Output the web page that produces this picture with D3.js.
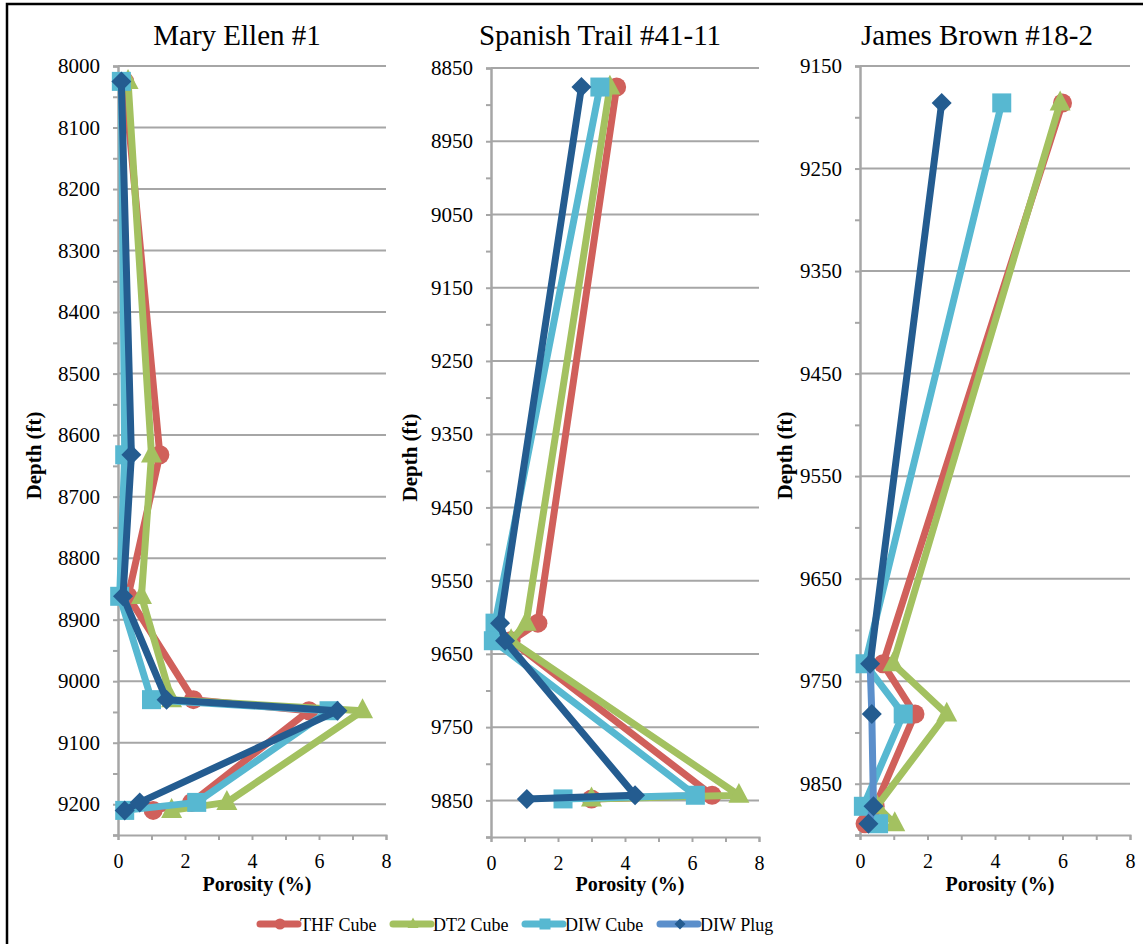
<!DOCTYPE html>
<html>
<head>
<meta charset="utf-8">
<script src="https://cdn.jsdelivr.net/npm/d3@7"></script>
<style>
  body { margin: 0; background: #fff; }
  svg text { font-family: "Liberation Serif", "DejaVu Serif", "Times New Roman", serif !important; fill: #000; }
</style>
</head>
<body>
<div id="chart"></div>
<script>
var svgWidth = 1143;
var svgHeight = 944;
var serif = "'Liberation Serif', 'DejaVu Serif', serif";

// series names, in drawing order
var seriesNames = ["THF Cube", "DT2 Cube", "DIW Cube", "DIW Plug"];
var wellNames = ["Mary Ellen #1", "Spanish Trail #41-11", "James Brown #18-2"];

// Mary Ellen #1
var maryEllenDepth = [8025, 8632, 8862, 9030, 9048, 9197, 9210];
var maryEllenTHF = [0.2, 1.25, 0.3, 2.25, 5.7, 2.2, 1.05];
var maryEllenDT2 = [0.3, 1.0, 0.7, 1.6, 7.3, 3.25, 1.6];
var maryEllenDIWCube = [0.1, 0.2, 0.05, 1.0, 6.3, 2.35, 0.2];
var maryEllenDIWPlug = [0.1, 0.4, 0.15, 1.45, 6.55, 0.65, 0.2];
var maryEllenTicks = [8000, 8100, 8200, 8300, 8400, 8500, 8600, 8700, 8800, 8900, 9000, 9100, 9200];

// Spanish Trail #41-11
var spanishTrailDepth = [8876, 9608, 9632, 9843, 9848];
var spanishTrailTHF = [3.75, 1.4, 0.6, 6.6, 3.0];
var spanishTrailDT2 = [3.55, 1.05, 0.6, 7.4, 3.0];
var spanishTrailDIWCube = [3.25, 0.12, 0.07, 6.1, 2.15];
var spanishTrailDIWPlug = [2.7, 0.27, 0.42, 4.3, 1.07];
var spanishTrailTicks = [8850, 8950, 9050, 9150, 9250, 9350, 9450, 9550, 9650, 9750, 9850];

// James Brown #18-2
var jamesBrownDepth = [9186, 9733, 9782, 9872, 9889];
var jamesBrownTHF = [6.0, 0.68, 1.63, 0.45, 0.15];
var jamesBrownDT2 = [5.93, 0.98, 2.57, 0.5, 1.03];
var jamesBrownDIWCube = [4.2, 0.15, 1.28, 0.1, 0.55];
var jamesBrownDIWPlug = [2.42, 0.3, 0.35, 0.4, 0.25];
var jamesBrownTicks = [9150, 9250, 9350, 9450, 9550, 9650, 9750, 9850];

var porosityTicks = [0, 1, 2, 3, 4, 5, 6, 7, 8];

var colors = ["#d0605b", "#a3c160", "#57b8d1", "#245c90"];
var plugLegendColor = "#5b8fcb";
var gridColor = "#a6a6a6";

var panels = [
  { name: wellNames[0], depth: maryEllenDepth,
    values: [maryEllenTHF, maryEllenDT2, maryEllenDIWCube, maryEllenDIWPlug],
    ticks: maryEllenTicks, domain: [8000, 9250],
    left: 118, right: 386, top: 66, bottom: 835, labelX: 41, titleX: 237 },
  { name: wellNames[1], depth: spanishTrailDepth,
    values: [spanishTrailTHF, spanishTrailDT2, spanishTrailDIWCube, spanishTrailDIWPlug],
    ticks: spanishTrailTicks, domain: [8850, 9900],
    left: 491, right: 759, top: 68, bottom: 837, labelX: 417, titleX: 600 },
  { name: wellNames[2], depth: jamesBrownDepth,
    values: [jamesBrownTHF, jamesBrownDT2, jamesBrownDIWCube, jamesBrownDIWPlug],
    ticks: jamesBrownTicks, domain: [9150, 9900],
    left: 860, right: 1130, top: 66, bottom: 835, labelX: 792, titleX: 977 }
];

var svg = d3.select("#chart")
  .append("svg")
  .attr("width", svgWidth)
  .attr("height", svgHeight)
  .attr("font-family", serif);

svg.append("rect")
  .attr("width", svgWidth)
  .attr("height", svgHeight)
  .attr("fill", "#fff");

// outer frame
svg.append("rect")
  .attr("x", 7)
  .attr("y", 4)
  .attr("width", svgWidth + 20)
  .attr("height", svgHeight + 20)
  .attr("fill", "none")
  .attr("stroke", "#000")
  .attr("stroke-width", 2.5);

function drawMarker(g, type, x, y, size, color) {
  if (type === 0) {
    g.append("circle").attr("cx", x).attr("cy", y).attr("r", size / 2).attr("fill", color);
  } else if (type === 1) {
    var h = size * 0.95;
    g.append("path")
      .attr("d", `M${x},${y - h * 0.62}L${x + size / 2},${y + h * 0.38}L${x - size / 2},${y + h * 0.38}Z`)
      .attr("fill", color);
  } else if (type === 2) {
    g.append("rect").attr("x", x - size / 2).attr("y", y - size / 2)
      .attr("width", size).attr("height", size).attr("fill", color);
  } else {
    var s = size / 2;
    g.append("path")
      .attr("d", `M${x},${y - s}L${x + s},${y}L${x},${y + s}L${x - s},${y}Z`)
      .attr("fill", color);
  }
}

var markerSizes = [19, 21, 19, 20];

panels.forEach(function(p, pi) {
  var x = d3.scaleLinear().domain([0, 8]).range([p.left, p.right]);
  var y = d3.scaleLinear().domain(p.domain).range([p.top, p.bottom]);

  var g = svg.append("g");

  // gridlines
  g.selectAll(".grid")
    .data(p.ticks)
    .enter()
    .append("line")
    .attr("x1", p.left)
    .attr("x2", p.right)
    .attr("y1", d => y(d))
    .attr("y2", d => y(d))
    .attr("stroke", gridColor)
    .attr("stroke-width", 2);

  // minor y ticks halfway between labels
  var minor = d3.range(p.ticks[0] + 50, p.domain[1] + 1, 100);
  var minorAxis = g.append("g")
    .attr("transform", `translate(${p.left},0)`)
    .call(d3.axisLeft(y).tickValues(minor).tickSize(5).tickFormat(""));

  var leftAxis = g.append("g")
    .attr("transform", `translate(${p.left},0)`)
    .call(d3.axisLeft(y).tickValues(p.ticks).tickSize(5).tickPadding(13).tickFormat(d3.format("d")));

  var bottomAxis = g.append("g")
    .attr("transform", `translate(0,${p.bottom})`)
    .call(d3.axisBottom(x).tickValues(porosityTicks).tickSize(5).tickPadding(14)
      .tickFormat(d => d % 2 === 0 ? d : ""));

  [minorAxis, leftAxis, bottomAxis].forEach(function(a) {
    a.attr("font-family", serif);
    a.select(".domain").attr("stroke", gridColor).attr("stroke-width", 2);
    a.selectAll(".tick line").attr("stroke", gridColor).attr("stroke-width", 2);
    a.selectAll("text")
      .attr("font-family", serif)
      .attr("font-size", 21)
      .attr("fill", "#000");
  });
  bottomAxis.selectAll("text").attr("font-size", 20);

  // title
  svg.append("text")
    .attr("x", p.titleX)
    .attr("y", 45)
    .attr("text-anchor", "middle")
    .attr("font-size", 29)
    .text(p.name);

  // axis titles
  svg.append("text")
    .attr("transform", `translate(${p.labelX},${(p.top + p.bottom) / 2 + 5}) rotate(-90)`)
    .attr("text-anchor", "middle")
    .attr("font-size", 21)
    .attr("font-weight", "bold")
    .text("Depth (ft)");

  svg.append("text")
    .attr("x", (p.left + p.right) / 2 + 5)
    .attr("y", 891)
    .attr("text-anchor", "middle")
    .attr("font-size", 20)
    .attr("font-weight", "bold")
    .text("Porosity (%)");

  // series
  var line = d3.line()
    .x(d => x(d[0]))
    .y(d => y(d[1]));

  p.values.forEach(function(vals, si) {
    var pts = vals.map((v, i) => [v, p.depth[i]]);
    var sg = svg.append("g");
    if (si === 3 && pi === 2) {
      // lower part of the plug line is drawn lighter in this well
      sg.append("path").datum(pts.slice(0, 2)).attr("d", line)
        .attr("fill", "none").attr("stroke", colors[si]).attr("stroke-width", 7)
        .attr("stroke-linejoin", "round").attr("stroke-linecap", "round");
      sg.append("path").datum(pts.slice(1)).attr("d", line)
        .attr("fill", "none").attr("stroke", plugLegendColor).attr("stroke-width", 7)
        .attr("stroke-linejoin", "round").attr("stroke-linecap", "round");
    } else {
      sg.append("path").datum(pts).attr("d", line)
        .attr("fill", "none").attr("stroke", colors[si]).attr("stroke-width", 7)
        .attr("stroke-linejoin", "round").attr("stroke-linecap", "round");
    }
    pts.forEach(function(d) {
      drawMarker(sg, si, x(d[0]), y(d[1]), markerSizes[si], colors[si]);
    });
  });
});

// legend
var legendX = [260, 393, 525, 660];
var legend = svg.append("g");
seriesNames.forEach(function(name, i) {
  var lx = legendX[i];
  var lineColor = i === 3 ? plugLegendColor : colors[i];
  legend.append("line")
    .attr("x1", lx).attr("x2", lx + 38)
    .attr("y1", 924).attr("y2", 924)
    .attr("stroke", lineColor)
    .attr("stroke-width", 7)
    .attr("stroke-linecap", "round");
  drawMarker(legend, i, lx + 20, 924, 11, colors[i]);
  legend.append("text")
    .attr("x", lx + 40)
    .attr("y", 931)
    .attr("font-size", 18)
    .text(name);
});
</script>
</body>
</html>
